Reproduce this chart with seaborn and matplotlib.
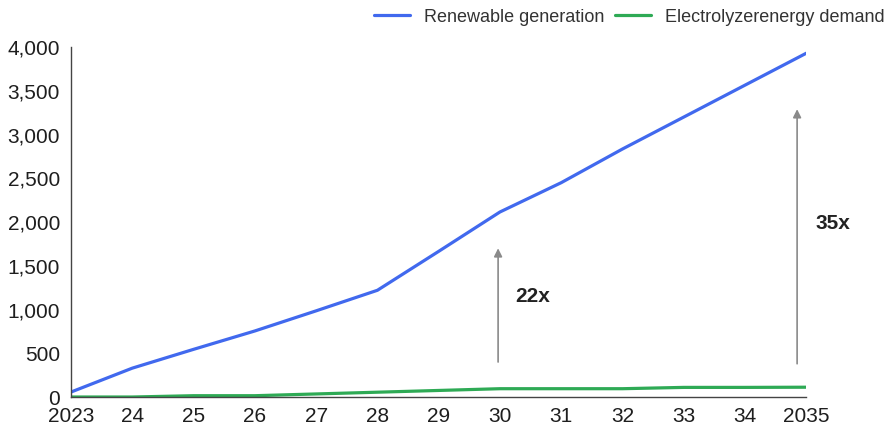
import matplotlib
matplotlib.use("Agg")
import matplotlib.pyplot as plt
import seaborn as sns
import pandas as pd

years = list(range(2023, 2036))
year_labels = ["2023", "24", "25", "26", "27", "28", "29", "30", "31", "32", "33", "34", "2035"]
renewable = [57, 330, 545, 755, 985, 1220, 1665, 2115, 2450, 2835, 3200, 3565, 3930]
electrolyzer = [0, 0, 15, 15, 35, 55, 75, 95, 95, 95, 110, 110, 112]
series_names = ["Renewable generation", "Electrolyzerenergy demand"]
series_colors = ["#4169EE", "#2EAA55"]

# multiplier callouts: (x, arrow start, arrow end, label x, label y, text)
callouts = [
    (2029.97, 400, 1700, 2030.25, 1150, "22x"),
    (2034.85, 380, 3290, 2035.15, 1980, "35x"),
]

df = pd.DataFrame({
    "year": years * 2,
    "value": renewable + electrolyzer,
    "series": [series_names[0]] * len(years) + [series_names[1]] * len(years),
})

sns.set_theme(style="white")
plt.rcParams["font.family"] = ["Liberation Sans", "DejaVu Sans"]

fig = plt.figure(figsize=(8.88, 4.28), dpi=100)
ax = fig.add_axes([0.08, 0.0724, 0.828, 0.8176])

sns.lineplot(data=df, x="year", y="value", hue="series",
             palette=dict(zip(series_names, series_colors)),
             linewidth=2.3, ax=ax, legend=True)

ax.set_xlim(2023, 2035)
ax.set_ylim(0, 4000)
ax.set_xticks(years)
ax.set_xticklabels(year_labels)
ax.set_yticks(range(0, 4001, 500))
ax.set_yticklabels([f"{v:,}" for v in range(0, 4001, 500)])
ax.tick_params(axis="both", labelsize=15, colors="#1e1e1e", length=0)
ax.tick_params(axis="y", pad=8)
ax.tick_params(axis="x", pad=7.5)
ax.set_xlabel("")
ax.set_ylabel("")

for side in ["top", "right"]:
    ax.spines[side].set_visible(False)
for side in ["left", "bottom"]:
    ax.spines[side].set_color("#444444")
    ax.spines[side].set_linewidth(1.0)

for x, y0, y1, tx, ty, txt in callouts:
    ax.annotate("", xy=(x, y1), xytext=(x, y0),
                arrowprops=dict(arrowstyle="-|>", color="#8a8a8a", lw=1.2,
                                mutation_scale=12, shrinkA=0, shrinkB=0),
                annotation_clip=False)
    ax.text(tx, ty, txt, fontsize=15, fontweight="bold", color="#222222",
            ha="left", va="center", clip_on=False)

handles, labels = ax.get_legend_handles_labels()
ax.legend(handles, labels, loc="center right", bbox_to_anchor=(1.006, 0.96),
          bbox_transform=fig.transFigure, ncol=2, frameon=False,
          fontsize=13, handlelength=2.0, handletextpad=0.75, columnspacing=0.6,
          labelcolor="#333333", borderaxespad=0.1)

fig.savefig("out.png", dpi=100)
